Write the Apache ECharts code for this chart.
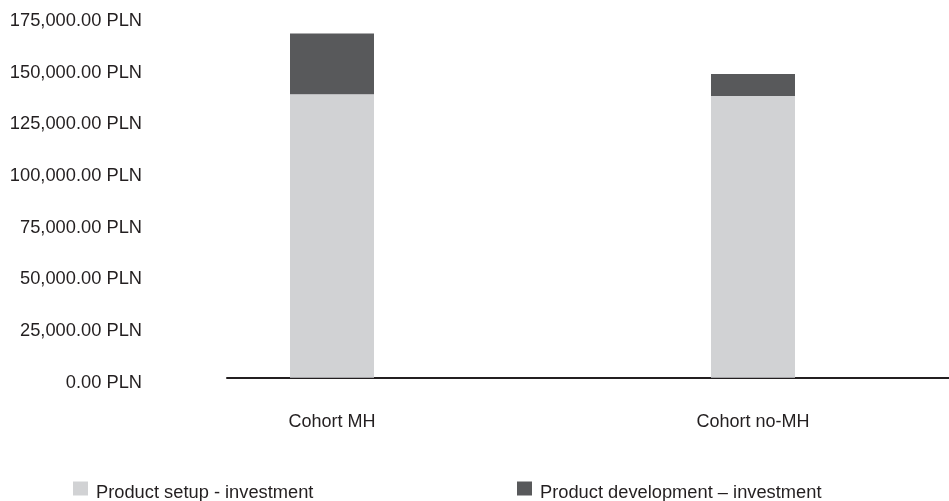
<!DOCTYPE html>
<html>
<head>
<meta charset="utf-8">
<script src="https://cdn.jsdelivr.net/npm/echarts@6/dist/echarts.min.js"></script>
<style>html,body{margin:0;padding:0;background:#fff;}#chart{width:949px;height:501px;}</style>
</head>
<body>
<div id="chart"></div>
<script>
const categories = ['Cohort MH', 'Cohort no-MH'];
const seriesNames = ['Product setup - investment', 'Product development \u2013 investment'];
const setupValues = [137100, 136200];
const developmentValues = [29400, 10700];
const yMax = 175000;
const yInterval = 25000;

const FONT = '"Liberation Sans", Arial, sans-serif';
const TEXT = '#231f20';
const fmt = v => '{a|' + v.toLocaleString('en-US', {minimumFractionDigits: 2, maximumFractionDigits: 2}) + ' PLN}';

const chart = echarts.init(document.getElementById('chart'));
const legendText = {
  fontFamily: FONT, fontSize: 18, color: TEXT,
  rich: {a: {fontFamily: FONT, fontSize: 18.3, color: TEXT, padding: [8, 0, 0, 3]}}
};
chart.setOption({
  animation: false,
  textStyle: {fontFamily: FONT},
  grid: [
    {left: 121.5, right: -14.5, top: 15.8, bottom: 123.3, containLabel: false, outerBoundsMode: 'none'},
    {left: 227, right: 0, top: 15.8, bottom: 123.3, containLabel: false, outerBoundsMode: 'none'}
  ],
  legend: [
    {data: [seriesNames[0]], left: 73, top: 481.5, padding: 0, itemWidth: 15, itemHeight: 14, itemGap: 8,
     formatter: n => '{a|' + n + '}', textStyle: legendText, icon: 'rect'},
    {data: [seriesNames[1]], left: 517, top: 481.5, padding: 0, itemWidth: 15, itemHeight: 14, itemGap: 8,
     formatter: n => '{a|' + n + '}', textStyle: legendText, icon: 'rect'}
  ],
  xAxis: [
    {type: 'category', gridIndex: 0, data: categories,
     axisLine: {show: false}, axisTick: {show: false},
     axisLabel: {fontFamily: FONT, fontSize: 18, color: TEXT, margin: 35}},
    {type: 'value', gridIndex: 1, min: 0, max: 1,
     axisLine: {show: true, onZero: false, lineStyle: {color: TEXT, width: 2}},
     axisTick: {show: false}, axisLabel: {show: false}, splitLine: {show: false}}
  ],
  yAxis: [
    {type: 'value', gridIndex: 0, min: 0, max: yMax, interval: yInterval, show: false, splitLine: {show: false}},
    {type: 'value', gridIndex: 1, min: 0, max: yMax, interval: yInterval,
     axisLine: {show: false}, axisTick: {show: false}, splitLine: {show: false},
     axisLabel: {fontFamily: FONT, fontSize: 18, color: TEXT, margin: 85, formatter: fmt,
       rich: {a: {fontFamily: FONT, fontSize: 18.3, color: TEXT, padding: [10, 0, 0, 0]}}}}
  ],
  series: [
    {name: seriesNames[0], type: 'bar', stack: 'total', xAxisIndex: 0, yAxisIndex: 0,
     barWidth: 84, data: setupValues, itemStyle: {color: '#d1d2d4'}},
    {name: seriesNames[1], type: 'bar', stack: 'total', xAxisIndex: 0, yAxisIndex: 0,
     barWidth: 84, data: developmentValues, itemStyle: {color: '#58595b'}}
  ]
});
</script>
</body>
</html>
